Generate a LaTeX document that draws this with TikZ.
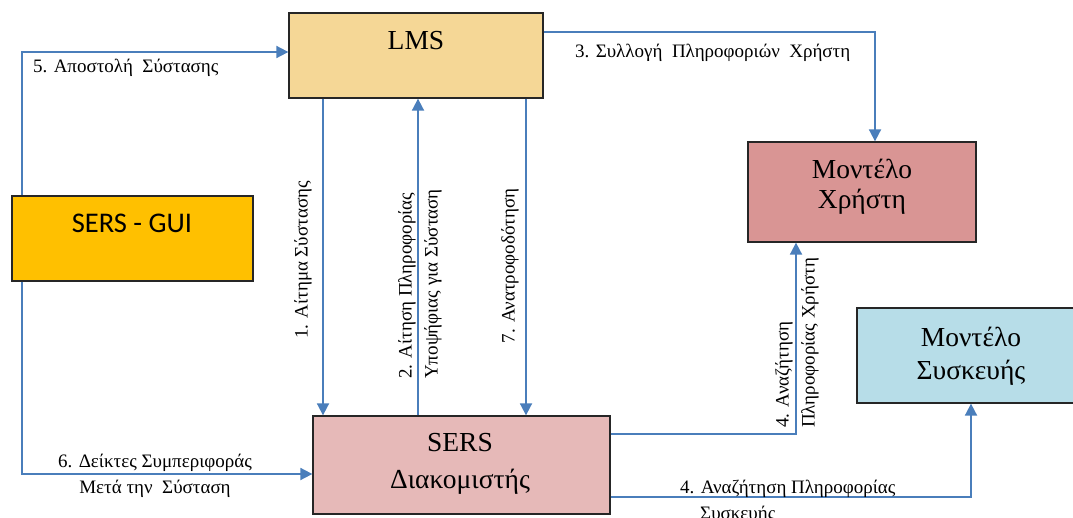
\documentclass[tikz,border=0pt]{standalone}
\usepackage{fontspec}
\setmainfont{Liberation Serif}
\newfontfamily\guifont{Carlito}
\usetikzlibrary{arrows.meta}

\definecolor{conn}{RGB}{74,126,187}
\definecolor{lmsfill}{RGB}{245,215,150}
\definecolor{guifill}{RGB}{255,192,0}
\definecolor{serverfill}{RGB}{230,185,184}
\definecolor{userfill}{RGB}{217,149,148}
\definecolor{devfill}{RGB}{183,221,232}

\tikzset{
  box/.style={draw=black!85, line width=1.3pt, inner sep=0pt},
  boxtext/.style={font=\fontsize{27.5}{32}\selectfont, inner sep=0pt},
  flow/.style={draw=conn, line width=1.8pt, -{Triangle[length=12pt,width=12pt]}},
  lbl/.style={font=\fontsize{19}{26}\selectfont, inner sep=0pt},
  vlbl/.style={lbl, rotate=90},
}

\begin{document}
\begin{tikzpicture}[x=1pt,y=1pt]
\clip (0,0) rectangle (1073,-518);
\fill[white] (0,0) rectangle (1073,-518);

% boxes
\node[box, fill=lmsfill, minimum width=254pt, minimum height=85pt] (lms) at (416,-55.5) {};
\node[boxtext] (lmst) at (416,-41) {LMS};

\node[box, fill=guifill, minimum width=241pt, minimum height=85pt] (gui) at (132.5,-238.5) {};
\node[boxtext, font=\guifont\fontsize{28.5}{32}\selectfont] (guit) at (132,-223) {SERS - GUI};

\node[box, fill=serverfill, minimum width=297pt, minimum height=98pt] (srv) at (461.5,-465) {};
\node[boxtext] (srvt1) at (460,-443) {SERS};
\node[boxtext] (srvt2) at (460,-482) {Διακομιστής};

\node[box, fill=userfill, minimum width=228pt, minimum height=100pt] (um) at (862,-192) {};
\node[boxtext] (umt1) at (862,-169) {Μοντέλο};
\node[boxtext] (umt2) at (862,-202) {Χρήστη};

\node[box, fill=devfill, minimum width=228pt, minimum height=95pt] (dm) at (971,-355.5) {};
\node[boxtext] (dmt1) at (971,-337) {Μοντέλο};
\node[boxtext] (dmt2) at (971,-373) {Συσκευής};

% connectors
\draw[flow] (gui.north west -| 22,0) |- (lms.west |- 0,-52);
\draw[flow] (gui.south west -| 22,0) |- (srv.west |- 0,-474);
\draw[flow] (lms.east |- 0,-32) -| (um.north -| 875,0);
\draw[flow] (lms.south -| 323,0) -- (srv.north -| 323,0);
\draw[flow] (srv.north -| 418,0) -- (lms.south -| 418,0);
\draw[flow] (lms.south -| 526,0) -- (srv.north -| 526,0);
\draw[flow] (srv.east |- 0,-434) -| (um.south -| 796,0);
\draw[flow] (srv.east |- 0,-497) -| (dm.south -| 971,0);

% connector labels
\node[lbl, anchor=west] (l5) at (33,-68) {5. Αποστολή~ Σύστασης};
\node[lbl, anchor=west] (l3) at (575,-53) {3. Συλλογή~ Πληροφοριών~ Χρήστη};
\node[vlbl] (l1) at (303,-260) {1. Αίτημα Σύστασης};
\node[vlbl, anchor=west, align=left] (l2) at (420,-379) {2. Αίτηση Πληροφορίας\\Υποψήφιας για Σύσταση};
\node[vlbl] (l7) at (510,-266) {7. Ανατροφοδότηση};
\node[vlbl, anchor=west, align=left] (l4a) at (797,-428) {4. Αναζήτηση\\Πληροφορίας Χρήστη};
\node[lbl, anchor=base west, align=left] (l4b) at (680,-519) {4. Αναζήτηση Πληροφορίας\\\hspace*{20pt}Συσκευής};
\node[lbl, align=center] (l6) at (155,-475.5) {6. Δείκτες Συμπεριφοράς\\Μετά την~ Σύσταση};
\end{tikzpicture}
\end{document}
